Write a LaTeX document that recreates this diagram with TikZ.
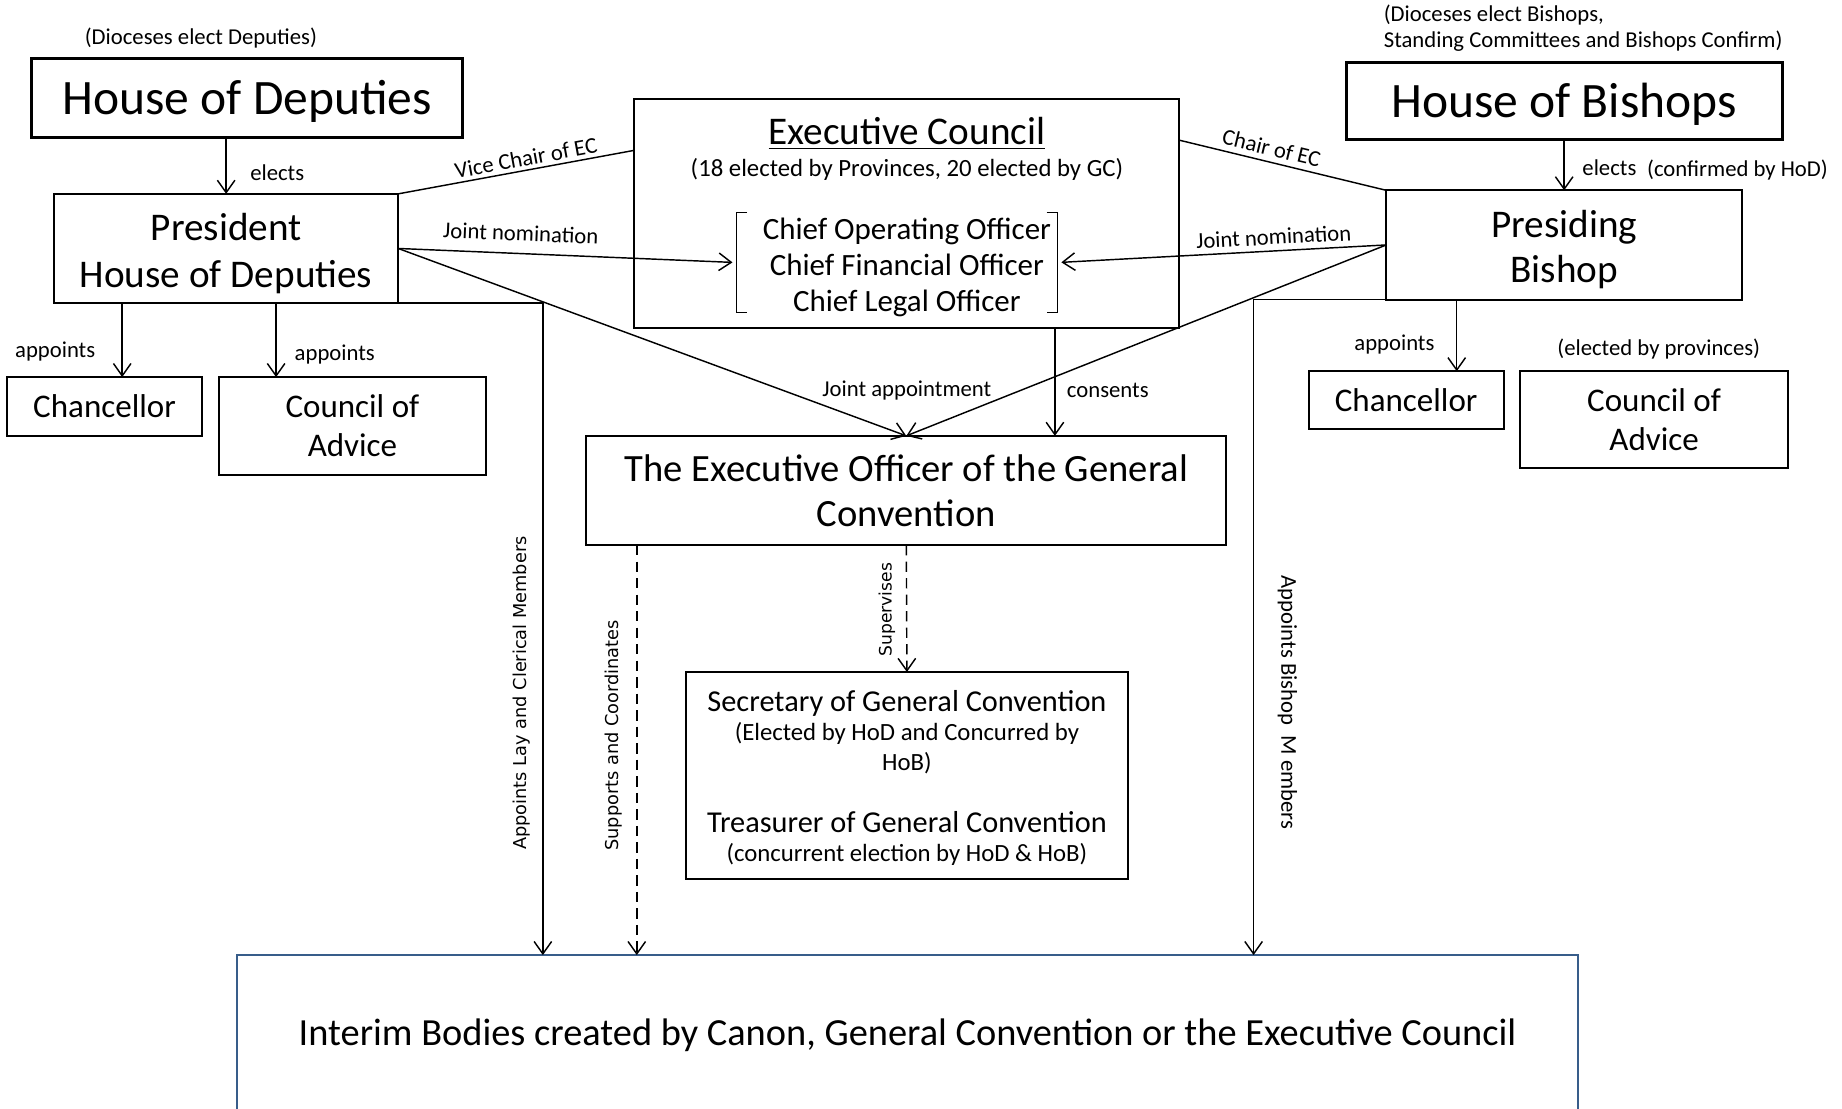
\documentclass[tikz,border=0pt]{standalone}
\usepackage{fontspec}
\setmainfont{Carlito}
\newfontfamily\rotfont{DejaVu Sans}
\usetikzlibrary{arrows.meta}
\usetikzlibrary{calc}
\definecolor{interimblue}{RGB}{56,93,138}
\newcommand{\fsz}[2]{\fontsize{#1}{#2}\selectfont}
\tikzset{every node/.style={inner sep=0pt, outer sep=0pt}}
\tikzset{
  box/.style={draw, line width=1pt, align=center},
  housebox/.style={box, line width=1.5pt, font=\fsz{24}{28}, text depth=0.6pt},
  link/.style={line width=0.7pt},
  tip/.tip={Straight Barb[length=6pt,width=8.5pt]},
  arr/.style={link, -tip},
  lbl/.style={font=\fsz{11}{12.5}, align=left},
  vlbl/.style={font=\rotfont\fsz{8.6}{10}},
}

\begin{document}
\begin{tikzpicture}[x=0.02cm, y=-0.02cm]
    \useasboundingbox (0,0) rectangle (1568,944);

    % the two houses
    \node[housebox, minimum width=7.34cm, minimum height=1.34cm] (hod) at (210.5,83.5) {House of Deputies};
    \node[lbl] (hodnote) at (171,32.5) {(Dioceses elect Deputies)};
    \node[housebox, minimum width=7.42cm, minimum height=1.32cm] (hob) at (1331.5,86) {House of Bishops};
    \node[lbl, anchor=west] (hobnote) at (1178,24) {(Dioceses elect Bishops,\\Standing Committees and Bishops Confirm)};

    \node[box, minimum width=5.86cm, minimum height=1.86cm, font=\fsz{19}{22.4}] (pres) at (192.5,211.5) {\rule{0pt}{18pt}President\\House of Deputies};
    \node[box, minimum width=6.06cm, minimum height=1.86cm, font=\fsz{19}{21.8}] (pb) at (1331.5,208.5) {\rule{0pt}{18pt}Presiding\\Bishop};

    % executive council
    \node[box, minimum width=9.28cm, minimum height=3.9cm] (ec) at (772,181.5) {};
    \node[font=\fsz{19}{22}] (ectitle) at (772,113.5) {\underline{Executive Council}};
    \node[font=\fsz{12}{14}] (ecnote) at (772,144) {(18 elected by Provinces, 20 elected by GC)};
    \node[minimum width=5.46cm, minimum height=1.7cm] (officers) at (763.5,223.5) {};
    \node[font=\fsz{15}{17.4}, align=center] (officernames) at (772,227.5) {Chief Operating Officer\\Chief Financial Officer\\Chief Legal Officer};
    \draw[link] ($(officers.north west)+(9,0)$) -- (officers.north west) -- (officers.south west) -- ++(9,0);
    \draw[link] ($(officers.north east)+(-9,0)$) -- (officers.north east) -- (officers.south east) -- ++(-9,0);

    % chancellors and councils
    \node[box, minimum width=3.32cm, minimum height=1cm, font=\fsz{16}{19}] (chl) at (89,346) {Chancellor};
    \node[box, minimum width=4.56cm, minimum height=1.66cm, font=\fsz{16}{18.8}] (col) at (300,362.5) {Council of\\Advice};
    \node[box, minimum width=3.32cm, minimum height=0.98cm, font=\fsz{16}{19}] (chr) at (1197,340.5) {Chancellor};
    \node[box, minimum width=4.56cm, minimum height=1.64cm, font=\fsz{16}{18.8}] (cor) at (1408,357) {Council of\\Advice};
    \node[lbl] (cornote) at (1412,297.5) {(elected by provinces)};

    % officers of the convention
    \node[box, minimum width=10.9cm, minimum height=1.86cm, font=\fsz{18.7}{21.6}] (eo) at (771.5,417.5) {The Executive Officer of the General\\Convention};
    \node[box, minimum width=7.52cm, minimum height=3.52cm, font=\fsz{12}{14.4}] (sec) at (772,660)
        {\rule{0pt}{13pt}{\fsz{14.7}{14.4}Secretary of General Convention}\\[-0.2pt]
         (Elected by HoD and Concurred by\\HoB)\\[15.6pt]
         {\fsz{14.7}{14.4}Treasurer of General Convention}\\[-0.2pt]
         (concurrent election by HoD \& HoB)};

    \node[box, draw=interimblue, minimum width=22.82cm, minimum height=2.74cm, font=\fsz{18.6}{22}] (interim) at (772.5,881.5) {Interim Bodies created by Canon, General Convention or the Executive Council};

    % elections
    \draw[arr] (hod.south -| pres.north) -- (pres.north);
    \node[lbl] (elects1) at (236,147) {elects};
    \draw[arr] (hob.south) -- (pb.north);
    \node[lbl] (elects2) at (1370,143) {elects};
    \node[lbl] (confirmed) at (1479,145) {(confirmed by HoD)};

    % chairs of the council
    \draw[link] (pres.north east) -- (ec.167.25) node[pos=0.55, above=2pt, sloped, lbl] {Vice Chair of EC};
    \draw[link] (ec.15.5) -- (pb.north west) node[pos=0.43, above=3pt, sloped, lbl] {Chair of EC};

    % nominations and appointments
    \draw[arr, shorten >=2pt] (pres.east) -- (officers.west) node[pos=0.36, above=6pt, sloped, lbl] {Joint nomination};
    \draw[link, tip-, shorten <=2pt] (officers.east) -- (pb.west) node[pos=0.66, above=3pt, sloped, lbl] {Joint nomination};
    \draw[arr] (pres.east) -- (eo.north);
    \draw[arr] (pb.west) -- (eo.north);
    \node[lbl] (jointapp) at (772,332.5) {Joint appointment};
    \draw[arr] ($(ec.south)+(126,0)$) coordinate (cons) -- (cons |- eo.north);
    \node[lbl] (consents) at (943,332) {consents};

    \draw[arr] ($(pres.south west)+(58,0)$) coordinate (ap1) -- (ap1 |- chl.north);
    \node[lbl] (appoints1) at (47,299.5) {appoints};
    \draw[arr] ($(pres.south west)+(189,0)$) coordinate (ap2) -- (ap2 |- col.north);
    \node[lbl] (appoints2) at (285,301.5) {appoints};
    \draw[arr] ($(pb.south west)+(60,0)$) coordinate (ap3) -- (ap3 |- chr.north);
    \node[lbl] (appoints3) at (1187,293.5) {appoints};

    % down to the interim bodies
    \draw[arr] (pres.south east) -| ($(interim.north west)+(260,0)$);
    \node[vlbl, rotate=90] (applay) at (444,590) {Appoints Lay and Clerical Members};
    \draw[arr, dash pattern=on 5pt off 3pt] ($(eo.south west)+(43,0)$) coordinate (sup) -- (sup |- interim.north);
    \node[vlbl, rotate=90] (supports) at (522,626) {Supports and Coordinates};
    \draw[arr, dash pattern=on 5pt off 3pt] (eo.south) -- (sec.north);
    \node[vlbl, rotate=90, font=\rotfont\fsz{8.3}{10}] (supervises) at (755,519) {Supervises};
    \draw[arr] (pb.south west) -| ($(interim.north west)+(865,0)$);
    \node[lbl, rotate=-90] (appbishop) at (1096,598) {Appoints Bishop\ \ M embers};

\end{tikzpicture}
\end{document}
